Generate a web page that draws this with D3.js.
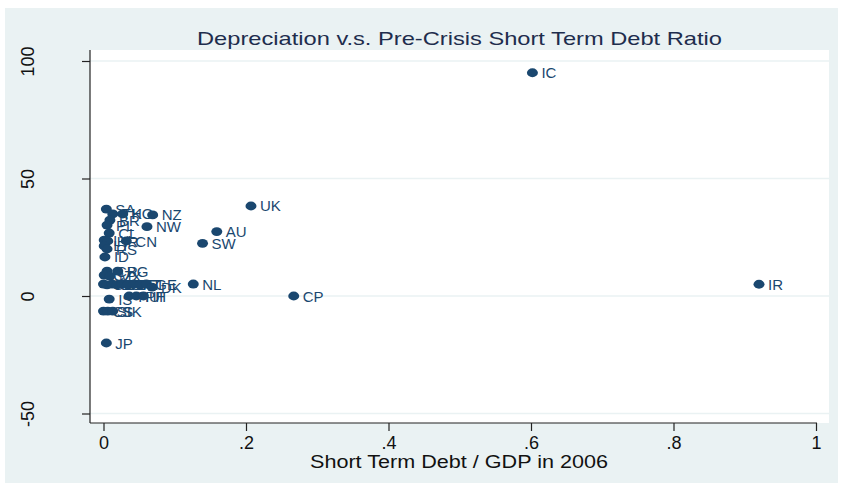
<!DOCTYPE html>
<html><head><meta charset="utf-8">
<script src="https://cdn.jsdelivr.net/npm/d3@7"></script>
<style>body{margin:0;background:#fff;} text{font-family:"Liberation Sans",Arial,sans-serif;}</style>
</head><body>
<svg id="c" width="842" height="485"></svg>
<script>
const countries = ["IC","IR","UK","AU","SW","CP","NL","NZ","NW","SA","TH","KO","BR","PL","CL","LV","HR","CN","LT","RS","ID","CR","BG","CZ","MX","GR","PT","ES","BE","FR","DE","AT","FI","GE","DK","HU","PH","IT","IS","CS","SI","SK","JP"];
const shortDebt = [0.602,0.920,0.207,0.159,0.139,0.267,0.126,0.069,0.061,0.004,0.013,0.027,0.009,0.005,0.008,0.001,0.006,0.032,0.001,0.005,0.002,0.005,0.020,0.001,0.009,0.000,0.005,0.012,0.019,0.026,0.034,0.043,0.051,0.060,0.068,0.036,0.046,0.056,0.008,0.000,0.006,0.013,0.004];
const depreciation = [95.0,5.0,38.3,27.4,22.4,0.0,5.1,34.5,29.5,37.0,34.9,34.9,32.3,30.2,26.8,23.8,23.4,23.4,21.3,20.0,16.6,10.6,10.6,8.9,8.5,5.1,4.7,5.1,4.7,5.1,4.7,5.1,4.7,5.1,3.8,0.0,0.0,0.0,-1.3,-6.4,-6.4,-6.4,-20.0];
const xTicks = [0,0.2,0.4,0.6,0.8,1];
const yTicks = [-50,0,50,100];
const titleText = "Depreciation v.s. Pre-Crisis Short Term Debt Ratio";
const xTitle = "Short Term Debt / GDP in 2006";

const svg = d3.select("#c");
const bg = "#eaf2f3", navy = "#1a476f";
svg.append("rect").attr("x",5).attr("y",8).attr("width",833).attr("height",475).attr("fill",bg);
const L=90,R=829,T=50,B=423;
svg.append("rect").attr("x",L).attr("y",T).attr("width",R-L).attr("height",B-T).attr("fill","#fff");

const x = d3.scaleLinear().domain([0,1]).range([103.5,816]);
const y = d3.scaleLinear().domain([-50,100]).range([413.5,61]);

// gridlines
svg.append("g").selectAll("line").data(yTicks).join("line")
  .attr("x1",L).attr("x2",R).attr("y1",d=>y(d)).attr("y2",d=>y(d))
  .attr("stroke",bg).attr("stroke-width",1.6);

// axes
const fmtX = d => d===0?"0":d===1?"1":d3.format(".1f")(d).replace(/^0/,"");
const xa = svg.append("g").attr("transform",`translate(0,${B})`)
  .call(d3.axisBottom(x).tickValues(xTicks).tickFormat(fmtX).tickSize(8).tickPadding(5).tickSizeOuter(0));
xa.select(".domain").remove();
xa.append("line").attr("x1",L).attr("x2",817).attr("y1",0).attr("y2",0).attr("stroke","#222").attr("stroke-width",1.2);
xa.selectAll(".tick line").attr("stroke","#222").attr("stroke-width",1.2);
xa.selectAll(".tick text").attr("font-size",18).attr("fill","#111").attr("font-family","Liberation Sans, Arial, sans-serif");

const ya = svg.append("g").attr("transform",`translate(${L},0)`)
  .call(d3.axisLeft(y).tickValues(yTicks).tickFormat(d => String(d)).tickSize(8).tickSizeOuter(0));
ya.select(".domain").remove();
ya.append("line").attr("x1",0).attr("x2",0).attr("y1",T).attr("y2",B).attr("stroke","#222").attr("stroke-width",1.2);
ya.selectAll(".tick line").attr("stroke","#222").attr("stroke-width",1.2);
ya.selectAll(".tick text").attr("font-size",18).attr("fill","#111").attr("font-family","Liberation Sans, Arial, sans-serif")
  .attr("x",null).attr("dy",null).attr("text-anchor","middle")
  .attr("transform","translate(-56,0) rotate(-90)");

// points
const pts = svg.append("g");
countries.forEach((c,i)=>{
  pts.append("ellipse").attr("cx",x(shortDebt[i])).attr("cy",y(depreciation[i])).attr("rx",5.5).attr("ry",4.4).attr("fill",navy);
});
countries.forEach((c,i)=>{
  pts.append("text").attr("x",x(shortDebt[i])+9).attr("y",y(depreciation[i])+5.5)
    .attr("font-size",15).attr("fill",navy).text(c);
});

// titles
svg.append("text").attr("x",459.5).attr("y",45).attr("text-anchor","middle").attr("font-size",18.5)
  .attr("fill","#1e2d4d").attr("textLength",525).attr("lengthAdjust","spacingAndGlyphs").text(titleText);
svg.append("text").attr("x",459).attr("y",468).attr("text-anchor","middle").attr("font-size",17.5)
  .attr("fill","#111").attr("textLength",298).attr("lengthAdjust","spacingAndGlyphs").text(xTitle);
</script>
</body></html>
